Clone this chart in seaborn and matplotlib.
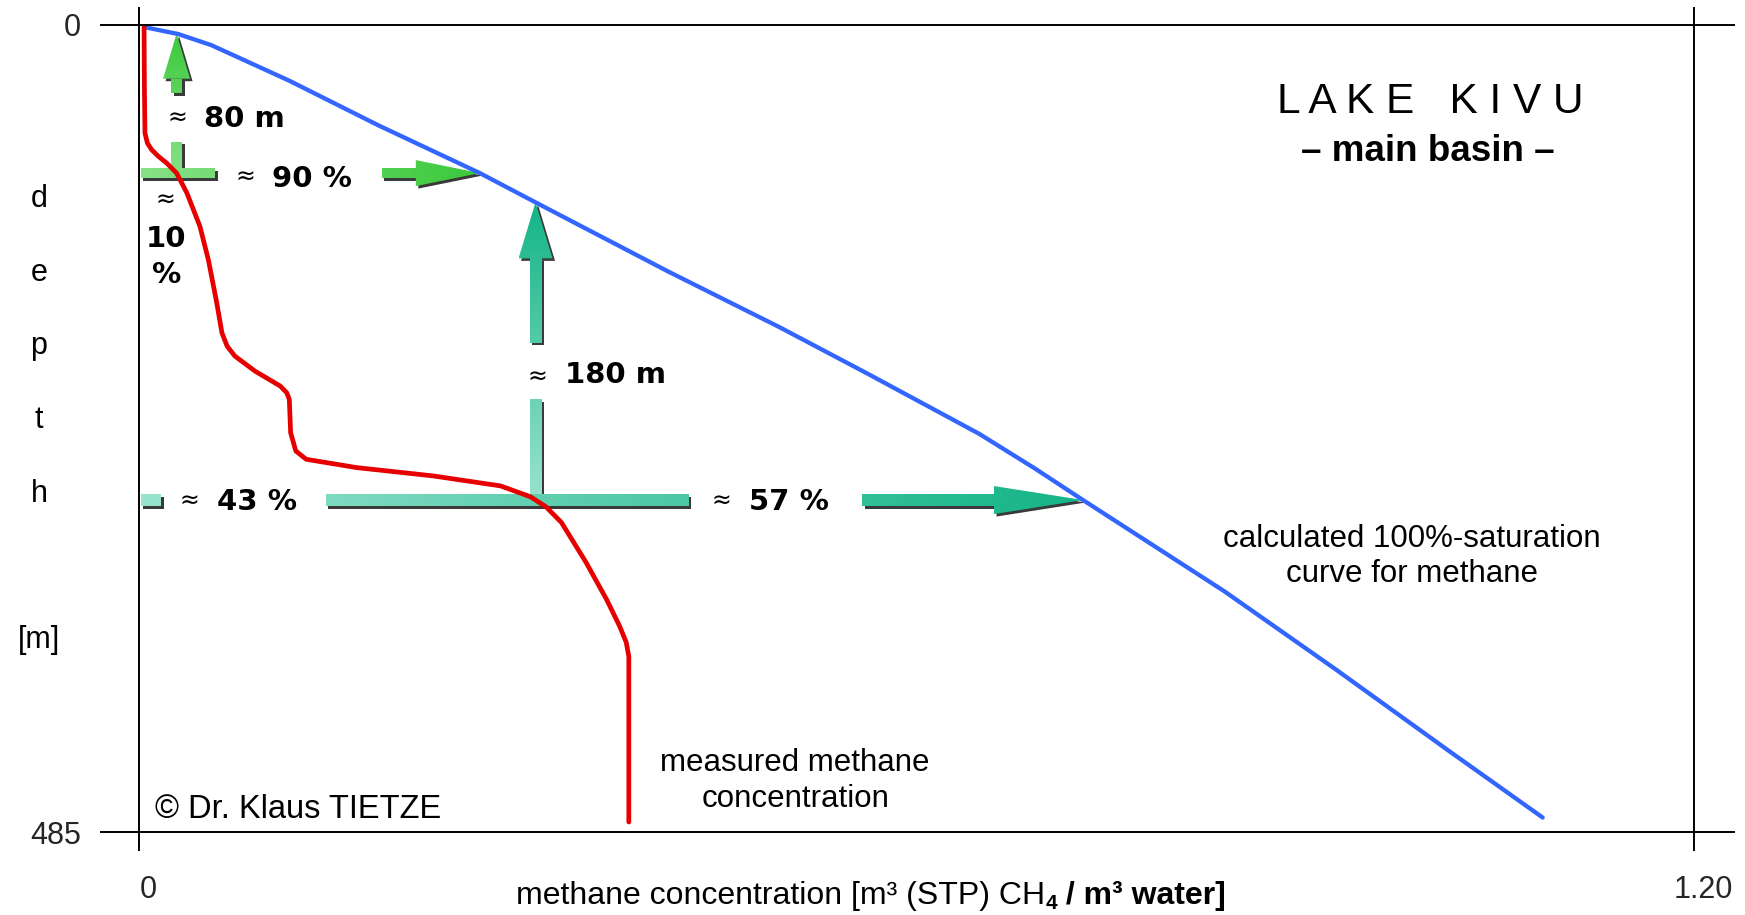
import numpy as np
import matplotlib
matplotlib.use("Agg")
import matplotlib.pyplot as plt
import seaborn as sns
from matplotlib.patches import Polygon
from matplotlib.colors import LinearSegmentedColormap
from matplotlib.transforms import ScaledTranslation

# ---------------------------------------------------------------- data --
# calculated 100 %-saturation curve for methane (concentration vs depth)
sat_depth = [1.3, 5.4, 12.1, 33.5, 60.3, 89.0, 107.0, 148.0, 181.5, 209.7,
             245.8, 266.6, 285.5, 340.3, 387.2, 435.4, 476.3]
sat_conc = [0.0043, 0.0301, 0.0558, 0.116, 0.1847, 0.263, 0.307, 0.408, 0.494,
            0.5626, 0.6486, 0.6915, 0.7285, 0.8375, 0.9234, 1.0093, 1.0832]

# measured methane concentration profile
meas_depth = [0.0, 40.0, 65.0, 71.0, 75.0, 79.0, 83.0, 89.0, 101.0, 121.0, 141.0,
              167.0, 185.0, 193.0, 199.0, 208.0, 217.0, 221.0, 225.0, 245.0,
              256.0, 261.0, 266.0, 271.0, 277.0, 283.5, 289.5, 299.0, 323.0,
              345.5, 361.5, 371.0, 379.5, 479.0]
meas_conc = [0.0039, 0.0042, 0.0046, 0.0065, 0.0098, 0.0150, 0.0214, 0.029,
             0.037, 0.047, 0.0535, 0.060, 0.064, 0.068, 0.074, 0.0895, 0.109,
             0.114, 0.116, 0.117, 0.121, 0.129, 0.168, 0.227, 0.279, 0.302,
             0.314, 0.326, 0.345, 0.361, 0.371, 0.376, 0.378, 0.378]

# comparison levels (depth in m) and their annotations
level_depth = [89.0, 285.5]
level_rise = ["80 m", "180 m"]
level_left = ["10 %", "43 %"]
level_right = ["90 %", "57 %"]

x_ticks = [0.0, 1.2]
x_ticklabels = ["0", "1.20"]
y_ticks = [0, 485]
y_ticklabels = ["0", "485"]
depth_letters = ["d", "e", "p", "t", "h"]

# ------------------------------------------------------------- styling --
sns.set_theme(style="white")
plt.rcParams["font.family"] = ["Liberation Sans", "DejaVu Sans"]
plt.rcParams["text.color"] = "black"

W, H = 1745, 915
fig = plt.figure(figsize=(W / 100, H / 100), dpi=100)
fig.patch.set_facecolor("white")
ax = fig.add_axes([139 / W, 1 - 832 / H, 1555 / W, 807 / H])
ax.set_facecolor("white")

XMAX, DMAX = 1.2, 485.0

# ------------------------------------------------------------- curves --
sns.lineplot(x=sat_conc, y=sat_depth, orient="y", sort=True, estimator=None,
             color="#3366ff", lw=3.1, ax=ax, zorder=6, solid_joinstyle="round",
             solid_capstyle="round", legend=False)
sns.lineplot(x=meas_conc, y=meas_depth, orient="y", sort=True, estimator=None,
             color="#e60000", lw=3.4, ax=ax, zorder=6, solid_joinstyle="round",
             legend=False)

ax.set_xlim(0, XMAX)
ax.set_ylim(DMAX, 0)

# pixel scales of the axes
sx = ax.bbox.width / XMAX
sy = ax.bbox.height / DMAX

# ------------------------------------------------------------- arrows --
SHADOW = "#3a3a3a"
green = LinearSegmentedColormap.from_list("g", ["#86e286", "#3cc93c"])
teal = LinearSegmentedColormap.from_list("t", ["#98e3ce", "#14b486"])


def piece(verts, cmap, extent, grad):
    sh = Polygon([(x + 2.5 / sx, y + 2.5 / sy) for x, y in verts], closed=True,
                 fc=SHADOW, ec="none", zorder=2)
    ax.add_patch(sh)
    clip = Polygon(verts, closed=True, transform=ax.transData, fc="none", ec="none")
    im = ax.imshow(grad, extent=extent, cmap=cmap, aspect="auto", origin="upper",
                   zorder=3, interpolation="bilinear", vmin=0, vmax=1)
    im.set_clip_path(clip)


def h_arrow(d, segs, x_tip, head_len, head_half, thick, cmap):
    h = thick / 2 / sy
    hh = head_half / sy
    x_start = segs[0][0]
    ext = (x_start, x_tip, d + hh, d - hh)
    grad = np.linspace(0, 1, 256)[None, :]
    xb = x_tip - head_len / sx
    for a, b in segs:
        b = xb if b is None else b
        piece([(a, d - h), (b, d - h), (b, d + h), (a, d + h)], cmap, ext, grad)
    piece([(xb, d - hh), (x_tip, d), (xb, d + hh)], cmap, ext, grad)


def v_arrow(c, d_base, segs, d_tip, head_len, head_half, width, cmap):
    w = width / 2 / sx
    hw = head_half / sx
    ext = (c - hw, c + hw, d_base, d_tip)
    grad = np.linspace(1, 0, 256)[:, None]
    db = d_tip + head_len / sy
    for a, b in segs:
        a = db if a is None else a
        piece([(c - w, a), (c + w, a), (c + w, b), (c - w, b)], cmap, ext, grad)
    piece([(c - hw, db), (c, d_tip), (c + hw, db)], cmap, ext, grad)


cmaps = [green, teal]
for k, lev in enumerate(level_depth):
    x_meas = float(np.interp(lev, meas_depth, meas_conc))
    x_sat = float(np.interp(lev, sat_depth, sat_conc))
    d_sat = float(np.interp(x_meas, sat_conc, sat_depth))
    cmap = cmaps[k]
    if k == 0:
        thick = 10
        h_arrow(lev, [(0.0015, 0.0587), (0.1875, None)], x_sat,
                head_len=64, head_half=13, thick=thick, cmap=cmap)
        v_arrow(x_meas, lev, [(None, 40.9), (70.3, lev - thick / 2 / sy)], d_sat,
                head_len=45, head_half=13.5, width=11, cmap=cmap)
    else:
        thick = 12
        h_arrow(lev, [(0.0015, 0.017), (0.144, 0.4244), (0.558, None)], x_sat,
                head_len=89, head_half=14, thick=thick, cmap=cmap)
        v_arrow(x_meas, lev, [(None, 191.0), (224.8, lev - thick / 2 / sy)], d_sat,
                head_len=56, head_half=17, width=12, cmap=cmap)

# ------------------------------------------------------- arrow labels --
BOLD = dict(family="DejaVu Sans", weight="bold", fontsize=21, ha="left",
            va="baseline", zorder=7)
APPROX = dict(family="DejaVu Sans", fontsize=17, ha="center", va="center", zorder=7)

ax.text(0.0297, 55.9, "≈", **APPROX)
ax.text(0.050, 61.3, level_rise[0], **BOLD)
ax.text(0.0818, 91.3, "≈", **APPROX)
ax.text(0.1025, 97.4, level_right[0], **BOLD)
ax.text(0.0205, 105.2, "≈", **APPROX)
num, pct = level_left[0].split(" ")
ax.text(0.0212, 133.4, num, **{**BOLD, "ha": "center"})
ax.text(0.0212, 155.0, pct, **{**BOLD, "ha": "center"})

ax.text(0.3071, 211.5, "≈", **APPROX)
ax.text(0.3285, 215.0, level_rise[1], **BOLD)
ax.text(0.039, 286.0, "≈", **APPROX)
ax.text(0.060, 291.5, level_left[1], **BOLD)
ax.text(0.4495, 286.0, "≈", **APPROX)
ax.text(0.4705, 291.5, level_right[1], **BOLD)

# ------------------------------------------------------ other labels --
ax.text(0.9963, 46.3, "L A K E   K I V U", fontsize=30.5, ha="center", va="center")
ax.text(0.9948, 76.0, "– main basin –", fontsize=26.5, weight="bold",
        ha="center", va="center")
ax.text(0.9824, 319.5, "calculated 100%-saturation\ncurve for methane",
        fontsize=22.5, ha="center", va="center", multialignment="center",
        linespacing=1.25)
ax.text(0.5063, 454.2, "measured methane\nconcentration", fontsize=22.5,
        ha="center", va="center", multialignment="center", linespacing=1.25)
ax.text(0.0123, 476.5, "© Dr. Klaus TIETZE", fontsize=23.5, ha="left", va="baseline")

# ----------------------------------------------------------- frame --
for s in ax.spines.values():
    s.set_visible(False)
for yv in (0, 1):
    ax.plot([-0.0251, 1.0264], [yv, yv], transform=ax.transAxes, color="black",
            lw=1.4, clip_on=False, zorder=8, solid_capstyle="butt")
for xv in (0, 1):
    ax.plot([xv, xv], [-0.0235, 1.0223], transform=ax.transAxes, color="black",
            lw=1.4, clip_on=False, zorder=8, solid_capstyle="butt")

ax.set_xticks(x_ticks)
ax.set_xticklabels(x_ticklabels)
ax.set_yticks(y_ticks)
ax.set_yticklabels(y_ticklabels)
ax.tick_params(axis="x", length=0, pad=31, labelsize=22)
ax.tick_params(axis="y", length=0, pad=42, labelsize=22)
shift = ScaledTranslation(9 / 100, 0, fig.dpi_scale_trans)
for lab in ax.get_xticklabels():
    lab.set_transform(lab.get_transform() + shift)
ax.set_xlabel("")
ax.set_ylabel("")
ax.grid(False)
ax.set_xlim(0, XMAX)
ax.set_ylim(DMAX, 0)

# vertical "depth [m]" axis title, one letter per line
for i, ch in enumerate(depth_letters):
    fig.text(39 / W, 1 - (207 + 73.7 * i) / H, ch, fontsize=22, ha="center",
             va="baseline")
fig.text(39 / W, 1 - 648 / H, "[m]", fontsize=22, ha="center", va="baseline")

# x axis title with normal and bold parts
fig.canvas.draw()
r = fig.canvas.get_renderer()
x0 = 516 / W
yb = 1 - 904 / H
t1 = fig.text(x0, yb, "methane concentration [m³ (STP) CH", fontsize=23,
              ha="left", va="baseline")
w1 = t1.get_window_extent(r).width / fig.bbox.width
t2 = fig.text(x0 + w1, yb - 5 / H, "4", fontsize=15, weight="bold",
              ha="left", va="baseline")
w2 = t2.get_window_extent(r).width / fig.bbox.width
fig.text(x0 + w1 + w2, yb, " / m³ water]", fontsize=23, weight="bold",
         ha="left", va="baseline")

fig.savefig("out.png", dpi=100, facecolor="white")
